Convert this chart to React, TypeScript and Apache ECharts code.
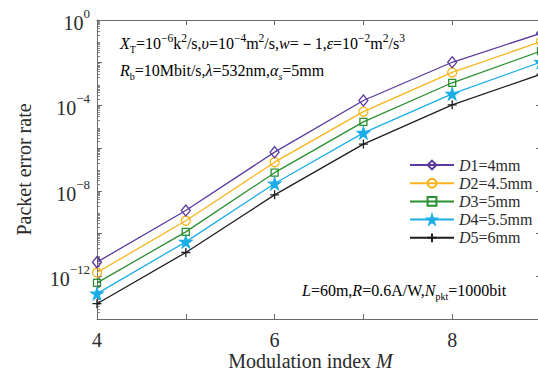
import React, { useEffect, useRef } from "react";
import * as echarts from "echarts";

const modulationIndex = [4, 5, 6, 7, 8, 9];
const seriesNames = ["D1=4mm", "D2=4.5mm", "D3=5mm", "D4=5.5mm", "D5=6mm"];
const perD1 = [4.6e-12, 1.2e-9, 6.5e-7, 1.7e-4, 1.05e-2, 2.4e-1];
const perD2 = [1.5e-12, 4.0e-10, 2.2e-7, 5.1e-5, 3.5e-3, 9.8e-2];
const perD3 = [4.9e-13, 1.2e-10, 7.1e-8, 1.7e-5, 1.15e-3, 3.5e-2];
const perD4 = [1.55e-13, 4.1e-11, 2.2e-8, 5.2e-6, 3.5e-4, 1.07e-2];
const perD5 = [5.2e-14, 1.3e-11, 6.5e-9, 1.55e-6, 1.07e-4, 2.9e-3];
const xTickLabels = ["4", "6", "8"];
const decades = [-14, -13, -12, -11, -10, -9, -8, -7, -6, -5, -4, -3, -2, -1];
const minorMantissas = [2, 3, 4, 5, 6, 7, 8, 9];

const FONT = "'Liberation Serif', 'Times New Roman', serif";
const TXT = "#2b2b2b";
const AXIS = "#6a6a6a";

const colors = ["#5A3A9E", "#F6B419", "#2A8F2F", "#1BADE8", "#1e1e1e"];
const symbols = [
  "diamond",
  "circle",
  "rect",
  "path://M50,0 L61,35 L98,35 L68,57 L79,91 L50,70 L21,91 L32,57 L2,35 L39,35 Z",
  "path://M0,5L10,5M5,0L5,10",
];
const symbolSizes: any[] = [[9, 11], 9, 7, 12, 9];
const hollow = [true, true, true, false, true];

export default function App() {
  const ref = useRef<HTMLDivElement>(null);
  useEffect(() => {
    if (!ref.current) return;
    document.body.style.margin = "0";
    document.body.style.overflow = "hidden";
    const chart = echarts.init(ref.current, null, { renderer: "svg" });
    const allData = [perD1, perD2, perD3, perD4, perD5];
    const minorValues: number[] = [];
    decades.forEach((d) => minorMantissas.forEach((m) => minorValues.push(m * Math.pow(10, d))));
    const series = allData.map((arr, i) => ({
      name: seriesNames[i],
      type: "line",
      data: arr.map((v, j) => [modulationIndex[j], v]),
      symbol: symbols[i],
      symbolSize: symbolSizes[i],
      showAllSymbol: true,
      lineStyle: { color: colors[i], width: 1.3 },
      itemStyle: {
        color: hollow[i] ? "rgba(0,0,0,0)" : colors[i],
        borderColor: colors[i],
        borderWidth: 1.3,
      },
      emphasis: { disabled: true },
      z: 10 - i,
    }));
    const rich = {
      i: { fontFamily: FONT, fontStyle: "italic", fontSize: 16, color: TXT, lineHeight: 22 },
      n: { fontFamily: FONT, fontSize: 16, color: TXT, lineHeight: 22 },
      sup: { fontFamily: FONT, fontSize: 11.5, color: TXT, verticalAlign: "top", lineHeight: 12 },
      sub: { fontFamily: FONT, fontSize: 10, color: TXT, verticalAlign: "bottom", lineHeight: 12 },
      subi: { fontFamily: FONT, fontSize: 10, fontStyle: "italic", color: TXT, verticalAlign: "bottom", lineHeight: 12 },
    };
    const logAxisBase = (position: string) => ({
      type: "log",
      logBase: 10,
      min: 1e-14,
      max: 1,
      position,
      splitLine: { show: false },
    });
    const option: any = {
      animation: false,
      grid: { left: 97, top: 20, right: -3, bottom: 55, containLabel: false, outerBoundsMode: "none" },
      xAxis: [
        {
          type: "value",
          min: 4,
          max: 9,
          interval: 1,
          name: "Modulation index {m|M}",
          nameLocation: "middle",
          nameGap: 32,
          nameMoveOverlap: false,
          nameTextStyle: {
            fontFamily: FONT,
            fontSize: 20,
            lineHeight: 20,
            color: TXT,
            padding: [0, 17, 0, 0],
            rich: { m: { fontFamily: FONT, fontSize: 20, lineHeight: 20, fontStyle: "italic", color: TXT } },
          },
          axisLine: { lineStyle: { color: AXIS, width: 1 } },
          axisTick: { inside: true, length: 5, lineStyle: { color: AXIS } },
          splitLine: { show: false },
          axisLabel: {
            margin: 11,
            fontFamily: FONT,
            fontSize: 20,
            color: TXT,
            formatter: (v: number) => (xTickLabels.includes(String(v)) ? String(v) : ""),
          },
        },
        {
          type: "value",
          min: 4,
          max: 9,
          interval: 1,
          position: "top",
          axisLine: { lineStyle: { color: AXIS, width: 1 } },
          axisTick: { inside: true, length: 5, lineStyle: { color: AXIS } },
          axisLabel: { show: false },
          splitLine: { show: false },
        },
      ],
      yAxis: [
        {
          ...logAxisBase("left"),
          interval: 2,
          name: "Packet error rate",
          nameLocation: "middle",
          nameGap: 63,
          nameMoveOverlap: false,
          nameTextStyle: { fontFamily: FONT, fontSize: 20, color: TXT },
          axisLine: { show: true, lineStyle: { color: AXIS, width: 1 } },
          axisTick: { inside: true, length: 5, lineStyle: { color: AXIS } },
          axisLabel: {
            margin: 7,
            formatter: (v: number) => {
              const e = Math.round(Math.log10(v));
              if (e % 4 !== 0) return "";
              const s = e < 0 ? "\u2212" + Math.abs(e) : String(e);
              return "{b|10}{s|" + s + "}";
            },
            rich: {
              b: { fontFamily: FONT, fontSize: 20, color: TXT, lineHeight: 26, verticalAlign: "bottom" },
              s: { fontFamily: FONT, fontSize: 13, color: TXT, lineHeight: 14, verticalAlign: "top" },
            },
          },
        },
        {
          ...logAxisBase("right"),
          interval: 2,
          axisLine: { show: true, lineStyle: { color: AXIS, width: 1 } },
          axisTick: { inside: true, length: 5, lineStyle: { color: AXIS } },
          axisLabel: { show: false },
        },
        {
          ...logAxisBase("left"),
          axisLine: { show: false },
          axisTick: { inside: true, length: 3, customValues: minorValues, lineStyle: { color: AXIS, width: 0.8 } },
          axisLabel: { show: false },
        },
        {
          ...logAxisBase("right"),
          axisLine: { show: false },
          axisTick: { inside: true, length: 3, customValues: minorValues, lineStyle: { color: AXIS, width: 0.8 } },
          axisLabel: { show: false },
        },
      ],
      legend: {
        orient: "vertical",
        left: 409,
        top: 157,
        padding: 0,
        itemWidth: 44,
        itemHeight: 11,
        itemGap: 2.2,
        data: seriesNames,
        formatter: (name: string) => "{i|D}{n|" + name.slice(1) + "}",
        textStyle: {
          fontFamily: FONT,
          fontSize: 16,
          color: TXT,
          rich: {
            i: { fontFamily: FONT, fontStyle: "italic", fontSize: 16, color: TXT, lineHeight: 16 },
            n: { fontFamily: FONT, fontSize: 16, color: TXT, lineHeight: 16 },
          },
        },
      },
      graphic: [
        {
          type: "text",
          x: 120,
          y: 43,
          style: {
            text:
              "{i|X}{sub|T}{n|=10}{sup|\u22126}{n|k}{sup|2}{n|/s,}{i|\u03c5}{n|=10}{sup|\u22124}{n|m}{sup|2}{n|/s,}{i|w}{n|=\uFF0D1,}{i|\u03b5}{n|=10}{sup|\u22122}{n|m}{sup|2}{n|/s}{sup|3}",
            rich,
            verticalAlign: "middle",
          },
        },
        {
          type: "text",
          x: 120,
          y: 70,
          style: {
            text: "{i|R}{sub|b}{n|=10Mbit/s,}{i|\u03bb}{n|=532nm,}{i|\u03b1}{subi|s}{n|=5mm}",
            rich,
            verticalAlign: "middle",
          },
        },
        {
          type: "text",
          x: 302,
          y: 290,
          style: {
            text: "{i|L}{n|=60m,}{i|R}{n|=0.6A/W,}{i|N}{sub|pkt}{n|=1000bit}",
            rich,
            verticalAlign: "middle",
          },
        },
      ],
      series,
    };
    chart.setOption(option);
    return () => chart.dispose();
  }, []);
  return <div ref={ref} style={{ width: 538, height: 374 }} />;
}
